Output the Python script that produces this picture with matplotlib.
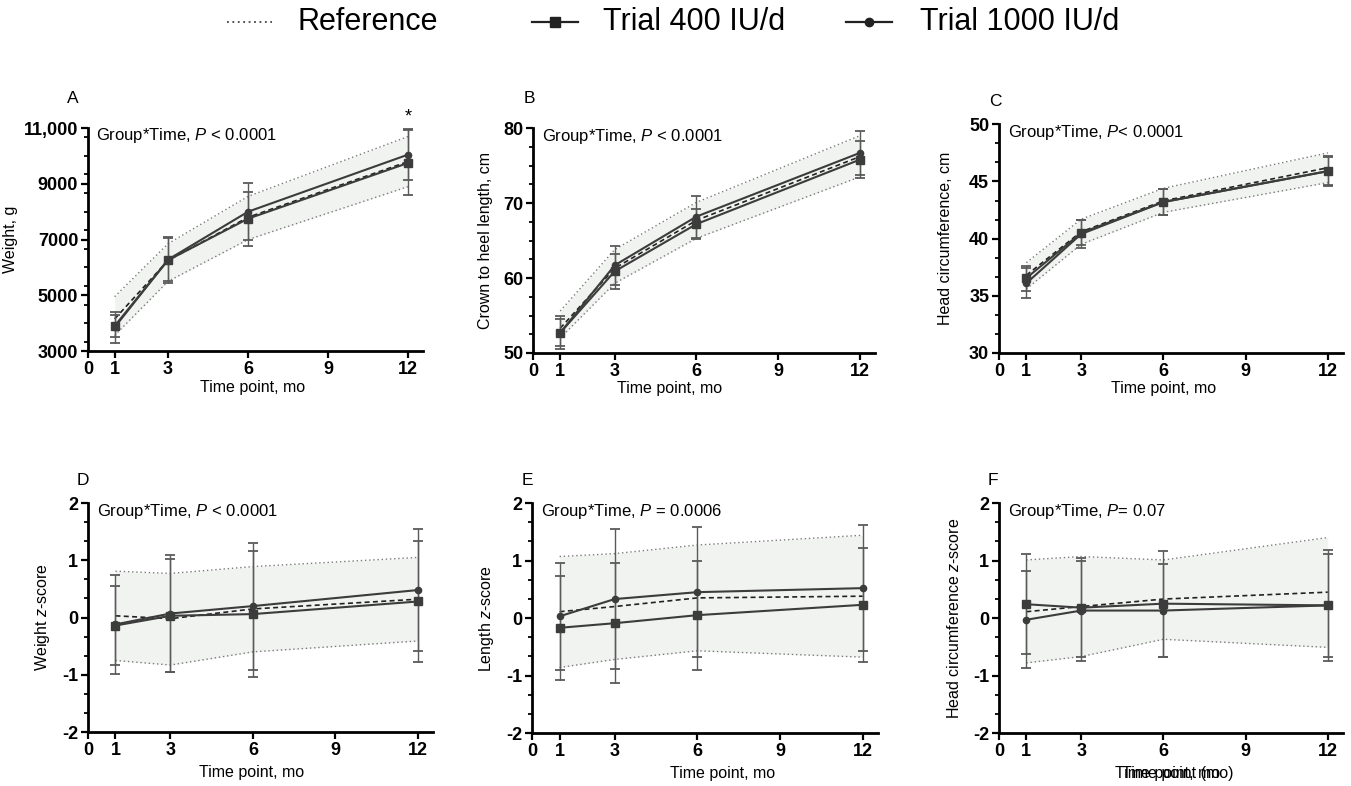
import matplotlib
matplotlib.use("Agg")
import matplotlib.pyplot as plt
from matplotlib.lines import Line2D
from matplotlib.ticker import MultipleLocator, FuncFormatter

plt.rcParams["font.family"] = ["Liberation Sans", "DejaVu Sans"]
plt.rcParams["mathtext.fontset"] = "custom"
plt.rcParams["mathtext.rm"] = "Liberation Sans"
plt.rcParams["mathtext.it"] = "Liberation Sans:italic"
plt.rcParams["axes.unicode_minus"] = False

# time points (months)
months = [1, 3, 6, 12]
xticks = [0, 1, 3, 6, 9, 12]

# A - weight, g
wt_ref = [4150, 6250, 7800, 9800]
wt_ref_lo = [3560, 5500, 7000, 8900]
wt_ref_hi = [4950, 6850, 8550, 10700]
wt_400 = [3900, 6260, 7750, 9750]
wt_400_sd = [400, 820, 970, 1170]
wt_1000 = [3850, 6280, 8000, 10050]
wt_1000_sd = [560, 780, 1020, 900]

# B - crown to heel length, cm
len_ref = [53.3, 61.3, 67.7, 76.2]
len_ref_lo = [52.0, 59.3, 65.3, 73.5]
len_ref_hi = [55.6, 63.8, 70.1, 79.0]
len_400 = [52.7, 60.9, 67.2, 75.8]
len_400_sd = [1.8, 2.3, 2.0, 2.5]
len_1000 = [52.7, 61.7, 68.2, 76.7]
len_1000_sd = [2.2, 2.6, 2.8, 2.9]

# C - head circumference, cm
hc_ref = [36.8, 40.6, 43.3, 46.2]
hc_ref_lo = [35.6, 39.5, 42.3, 44.9]
hc_ref_hi = [37.9, 41.7, 44.4, 47.5]
hc_400 = [36.55, 40.5, 43.2, 45.9]
hc_400_sd = [1.1, 1.1, 1.1, 1.3]
hc_1000 = [36.1, 40.4, 43.2, 45.9]
hc_1000_sd = [1.3, 1.2, 1.1, 1.2]

# D - weight z-score
wz_ref = [0.03, -0.02, 0.15, 0.32]
wz_ref_lo = [-0.75, -0.83, -0.60, -0.41]
wz_ref_hi = [0.81, 0.77, 0.89, 1.05]
wz_400 = [-0.14, 0.03, 0.06, 0.28]
wz_400_sd = [0.69, 0.99, 1.10, 1.05]
wz_1000 = [-0.12, 0.07, 0.20, 0.48]
wz_1000_sd = [0.87, 1.02, 1.11, 1.07]

# E - length z-score
lz_ref = [0.11, 0.20, 0.35, 0.38]
lz_ref_lo = [-0.86, -0.72, -0.57, -0.68]
lz_ref_hi = [1.07, 1.12, 1.27, 1.44]
lz_400 = [-0.17, -0.09, 0.05, 0.23]
lz_400_sd = [0.90, 1.04, 0.95, 0.99]
lz_1000 = [0.03, 0.33, 0.45, 0.52]
lz_1000_sd = [0.93, 1.22, 1.13, 1.10]

# F - head circumference z-score
hz_ref = [0.11, 0.20, 0.33, 0.45]
hz_ref_lo = [-0.78, -0.67, -0.37, -0.51]
hz_ref_hi = [1.01, 1.07, 1.01, 1.40]
hz_400 = [0.24, 0.18, 0.25, 0.22]
hz_400_sd = [0.87, 0.86, 0.92, 0.97]
hz_1000 = [-0.03, 0.13, 0.13, 0.22]
hz_1000_sd = [0.84, 0.87, 0.81, 0.90]

panels = [
    dict(letter="A", ref=wt_ref, lo=wt_ref_lo, hi=wt_ref_hi, t400=wt_400, sd400=wt_400_sd,
         t1000=wt_1000, sd1000=wt_1000_sd, ylim=(3000, 11000), yticks=[3000, 5000, 7000, 9000, 11000],
         minor=2000 / 3, ylabel="Weight, g", ptext="Group*Time, $P$ < 0.0001",
         pos=[0.0651, 0.5534, 0.248, 0.2837], ylab_x=-0.209, xlab=(0.49, -0.13), letter_xy=(0.054, 0.875)),
    dict(letter="B", ref=len_ref, lo=len_ref_lo, hi=len_ref_hi, t400=len_400, sd400=len_400_sd,
         t1000=len_1000, sd1000=len_1000_sd, ylim=(50, 80), yticks=[50, 60, 70, 80],
         minor=2.5, ylabel="Crown to heel length, cm", ptext="Group*Time, $P$ < 0.0001",
         pos=[0.3945, 0.5509, 0.253, 0.286], ylab_x=-0.117, xlab=(0.40, -0.125), letter_xy=(0.3915, 0.875)),
    dict(letter="C", ref=hc_ref, lo=hc_ref_lo, hi=hc_ref_hi, t400=hc_400, sd400=hc_400_sd,
         t1000=hc_1000, sd1000=hc_1000_sd, ylim=(30, 50), yticks=[30, 35, 40, 45, 50],
         minor=5 / 3, ylabel="Head circumference, cm", ptext="Group*Time, $P$< 0.0001",
         pos=[0.7394, 0.5509, 0.2546, 0.291], ylab_x=-0.134, xlab=(0.48, -0.122), letter_xy=(0.7365, 0.871)),
    dict(letter="D", ref=wz_ref, lo=wz_ref_lo, hi=wz_ref_hi, t400=wz_400, sd400=wz_400_sd,
         t1000=wz_1000, sd1000=wz_1000_sd, ylim=(-2, 2), yticks=[-2, -1, 0, 1, 2],
         minor=1 / 3, ylabel="Weight $z$-score", ptext="Group*Time, $P$ < 0.0001",
         pos=[0.0651, 0.0687, 0.2554, 0.2913], ylab_x=-0.104, xlab=(0.475, -0.145), letter_xy=(0.0617, 0.389)),
    dict(letter="E", ref=lz_ref, lo=lz_ref_lo, hi=lz_ref_hi, t400=lz_400, sd400=lz_400_sd,
         t1000=lz_1000, sd1000=lz_1000_sd, ylim=(-2, 2), yticks=[-2, -1, 0, 1, 2],
         minor=1 / 3, ylabel="Length $z$-score", ptext="Group*Time, $P$ = 0.0006",
         pos=[0.3938, 0.0674, 0.256, 0.2926], ylab_x=-0.104, xlab=(0.55, -0.145), letter_xy=(0.39, 0.389)),
    dict(letter="F", ref=hz_ref, lo=hz_ref_lo, hi=hz_ref_hi, t400=hz_400, sd400=hz_400_sd,
         t1000=hz_1000, sd1000=hz_1000_sd, ylim=(-2, 2), yticks=[-2, -1, 0, 1, 2],
         minor=1 / 3, ylabel="Head circumference $z$-score", ptext="Group*Time, $P$= 0.07",
         pos=[0.7394, 0.0674, 0.2546, 0.2926], ylab_x=-0.108, xlab=(0.49, -0.145), letter_xy=(0.735, 0.389)),
]

line_col = "#3c3c3c"
bar_col = "#5a5a5a"
band_col = "#f1f3f1"


def fmt_y(v, _):
    if abs(v) >= 10000:
        return f"{v:,.0f}"
    return f"{v:.0f}"


fig = plt.figure(figsize=(13.51, 7.86), dpi=100)

for p in panels:
    ax = fig.add_axes(p["pos"])
    # reference band
    ax.fill_between(months, p["lo"], p["hi"], color=band_col, lw=0, zorder=1)
    ax.plot(months, p["lo"], ls=(0, (1, 2)), color="#7a7a7a", lw=1, zorder=2)
    ax.plot(months, p["hi"], ls=(0, (1, 2)), color="#7a7a7a", lw=1, zorder=2)
    ax.plot(months, p["ref"], ls=(0, (3, 2)), color="#222222", lw=1.2, zorder=3)

    # trial groups
    for mean, sd, mk, ms in [(p["t1000"], p["sd1000"], "o", 4.5), (p["t400"], p["sd400"], "s", 5.5)]:
        eb = ax.errorbar(months, mean, yerr=sd, fmt="none", ecolor=bar_col, elinewidth=1,
                         capsize=3.5, capthick=1.3, zorder=4)
        for cap in eb[1]:
            cap.set_color("black")
        ax.plot(months, mean, marker=mk, ms=ms, color=line_col, lw=1.5, zorder=5)

    ax.set_xlim(0, 12.55)
    ax.set_ylim(*p["ylim"])
    ax.set_xticks(xticks)
    ax.set_yticks(p["yticks"])
    ax.yaxis.set_minor_locator(MultipleLocator(p["minor"]))
    ax.yaxis.set_major_formatter(FuncFormatter(fmt_y))
    for s in ["top", "right"]:
        ax.spines[s].set_visible(False)
    for s in ["left", "bottom"]:
        ax.spines[s].set_linewidth(2)
    ax.tick_params(axis="both", which="major", length=5, width=1.6, labelsize=13, pad=2)
    ax.tick_params(axis="y", which="minor", length=3, width=1.3)
    for lab in ax.get_xticklabels() + ax.get_yticklabels():
        lab.set_fontweight("bold")

    ax.set_ylabel(p["ylabel"], fontsize=11.5)
    ax.yaxis.set_label_coords(p["ylab_x"], 0.5)
    ax.set_xlabel("Time point, mo", fontsize=11.5)
    ax.xaxis.set_label_coords(*p["xlab"])
    ax.text(0.025, 0.965, p["ptext"], transform=ax.transAxes, fontsize=12, va="center", ha="left")
    fig.text(*p["letter_xy"], p["letter"], fontsize=12.5, ha="center", va="center")

    if p["letter"] == "A":
        ax.text(12, 11400, "*", fontsize=13, ha="center", va="center", clip_on=False)
    if p["letter"] == "F":
        # overlapping leftover label seen in the original figure
        ax.text(p["xlab"][0] + 0.03, p["xlab"][1], "Time point (mo)", transform=ax.transAxes,
                fontsize=11.5, ha="center", va="top")

# legend drawn along the top
leg_y = 0.972
fig.add_artist(Line2D([0.168, 0.201], [leg_y, leg_y], ls=(0, (1, 2)), color="#444444", lw=1.3))
fig.text(0.220, leg_y, "Reference", fontsize=22, va="center", ha="left")
fig.add_artist(Line2D([0.394, 0.428], [leg_y, leg_y], color="#222222", lw=1.6))
fig.add_artist(Line2D([0.411], [leg_y], marker="s", ms=7, color="#222222"))
fig.text(0.446, leg_y, "Trial 400 IU/d", fontsize=22, va="center", ha="left")
fig.add_artist(Line2D([0.626, 0.660], [leg_y, leg_y], color="#222222", lw=1.6))
fig.add_artist(Line2D([0.643], [leg_y], marker="o", ms=6, color="#222222"))
fig.text(0.681, leg_y, "Trial 1000 IU/d", fontsize=22, va="center", ha="left")

fig.savefig("out.png", dpi=100)
